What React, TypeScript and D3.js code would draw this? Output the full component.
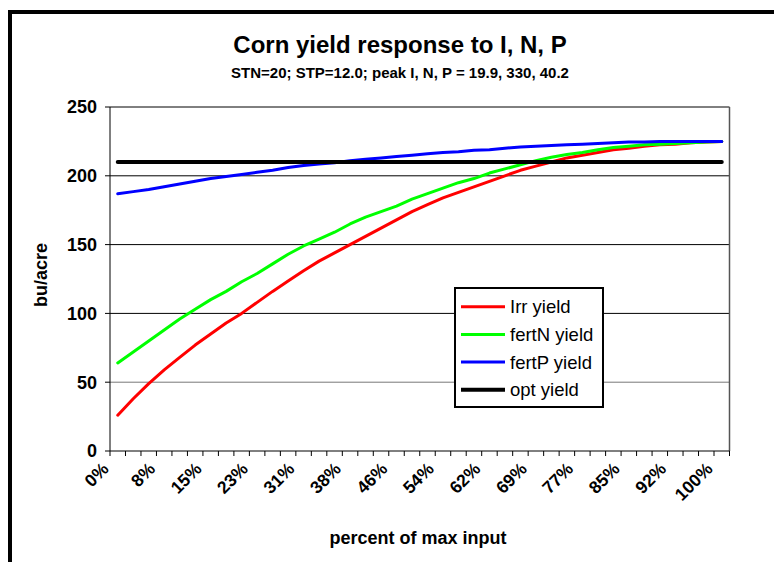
import React from "react";
import * as d3 from "d3";

// 40 input levels, 0% .. 100% of max input
const categories = d3.range(40);
const tickLabels = ["0%", "8%", "15%", "23%", "31%", "38%", "46%", "54%", "62%", "69%", "77%", "85%", "92%", "100%"];

const irrYield = [26, 38, 49, 59, 68, 77, 85, 93, 100, 108, 116, 123.5, 131, 138, 144, 150, 156, 162, 168, 174,
    179, 184, 188, 192, 196, 200, 204, 207, 210, 213, 215, 217, 219, 220, 221.5, 222.5, 223, 224, 224.5, 225];
const fertNYield = [64, 72, 80, 88, 96, 103, 110, 116, 123, 129, 136, 143, 149, 154, 159, 165, 170, 174, 178, 183,
    187, 191, 195, 198, 202, 205, 208, 211, 213.5, 215.5, 217, 219, 220.5, 221.5, 222.5, 223, 223.5, 224, 224.5, 225];
const fertPYield = [187, 188.5, 190, 192, 194, 196, 198, 199.5, 201, 202.5, 204, 206, 207.5, 208.5, 209.5, 211, 212, 213, 214, 215,
    216, 217, 217.5, 218.5, 219, 220, 221, 221.5, 222, 222.5, 223, 223.5, 224, 224.5, 224.5, 225, 225, 225, 225, 225];
const optYield = [210, 210, 210, 210, 210, 210, 210, 210, 210, 210, 210, 210, 210, 210, 210, 210, 210, 210, 210, 210,
    210, 210, 210, 210, 210, 210, 210, 210, 210, 210, 210, 210, 210, 210, 210, 210, 210, 210, 210, 210];

const yTicks = [0, 50, 100, 150, 200, 250];

const series = [
    { name: "Irr yield", values: irrYield, color: "#ff0000", w: 3 },
    { name: "fertN yield", values: fertNYield, color: "#00ff00", w: 3 },
    { name: "fertP yield", values: fertPYield, color: "#0000ff", w: 3 },
    { name: "opt yield", values: optYield, color: "#000000", w: 4 },
];

const FONT = "'Liberation Sans', Arial, sans-serif";

export default function App() {
    const left = 110, right = 729.5, top = 107, bottom = 451;
    const x = d3.scaleBand<number>().domain(categories).range([left, right]);
    const y = d3.scaleLinear().domain([0, 250]).range([bottom, top]);
    const cx = (i: number) => (x(i) as number) + x.bandwidth() / 2;

    const line = d3.line<number>()
        .x((d, i) => cx(i))
        .y((d) => y(d));

    const legendX = 455, legendY = 288;

    return (
        <div style={{ position: "absolute", left: 0, top: 0 }}>
            <svg width="774" height="562" style={{ display: "block", background: "#fff" }}>
                <rect x={10} y={12} width={800} height={620} fill="none" stroke="#000" strokeWidth={4} />

                <text x={400} y={53} textAnchor="middle" fontFamily={FONT} fontWeight="bold" fontSize={24}>
                    Corn yield response to I, N, P
                </text>
                <text x={400} y={78} textAnchor="middle" fontFamily={FONT} fontWeight="bold" fontSize={15}>
                    STN=20; STP=12.0; peak I, N, P = 19.9, 330, 40.2
                </text>

                {/* gridlines */}
                {yTicks.filter((t) => t > 0).map((t) => (
                    <line key={t} x1={left} x2={right} y1={y(t)} y2={y(t)} stroke={t === 50 ? "#777" : "#000"} strokeWidth={1} />
                ))}
                <line x1={right} x2={right} y1={top} y2={bottom} stroke="#555" strokeWidth={1.5} />

                {/* y axis */}
                <line x1={left} x2={left} y1={top} y2={bottom} stroke="#000" strokeWidth={1} />
                {yTicks.map((t) => (
                    <g key={t}>
                        <line x1={left - 5} x2={left} y1={y(t)} y2={y(t)} stroke="#000" strokeWidth={1} />
                        <text x={97} y={y(t)} dy="0.35em" textAnchor="end" fontFamily={FONT} fontWeight="bold" fontSize={18}>
                            {t}
                        </text>
                    </g>
                ))}
                <text transform={`translate(47,275) rotate(-90)`} textAnchor="middle" fontFamily={FONT} fontWeight="bold" fontSize={18}>
                    bu/acre
                </text>

                {/* x axis */}
                <line x1={left} x2={right} y1={bottom} y2={bottom} stroke="#000" strokeWidth={1} />
                {d3.range(categories.length + 1).map((k) => {
                    const xx = left + k * x.step();
                    return <line key={k} x1={xx} x2={xx} y1={bottom} y2={bottom + 5} stroke="#000" strokeWidth={1} />;
                })}
                {tickLabels.map((lab, j) => (
                    <text key={lab} transform={`translate(${cx(j * 3) - 8},${470}) rotate(-45)`} textAnchor="end"
                        fontFamily={FONT} fontWeight="bold" fontSize={17.5}>
                        {lab}
                    </text>
                ))}
                <text x={418} y={544} textAnchor="middle" fontFamily={FONT} fontWeight="bold" fontSize={18}>
                    percent of max input
                </text>

                {/* series */}
                {series.map((s) => (
                    <path key={s.name} d={line(s.values) as string} fill="none" stroke={s.color} strokeWidth={s.w}
                        strokeLinejoin="round" strokeLinecap="round" />
                ))}

                {/* legend */}
                <rect x={legendX} y={legendY} width={148} height={119} fill="#fff" stroke="#000" strokeWidth={2} />
                {series.map((s, i) => {
                    const ly = legendY + 18.7 + i * 27.7;
                    return (
                        <g key={s.name}>
                            <line x1={legendX + 6} x2={legendX + 50} y1={ly} y2={ly} stroke={s.color} strokeWidth={s.w} />
                            <text x={legendX + 55} y={ly} dy="0.35em" fontFamily={FONT} fontSize={18.5}>
                                {s.name}
                            </text>
                        </g>
                    );
                })}
            </svg>
        </div>
    );
}
